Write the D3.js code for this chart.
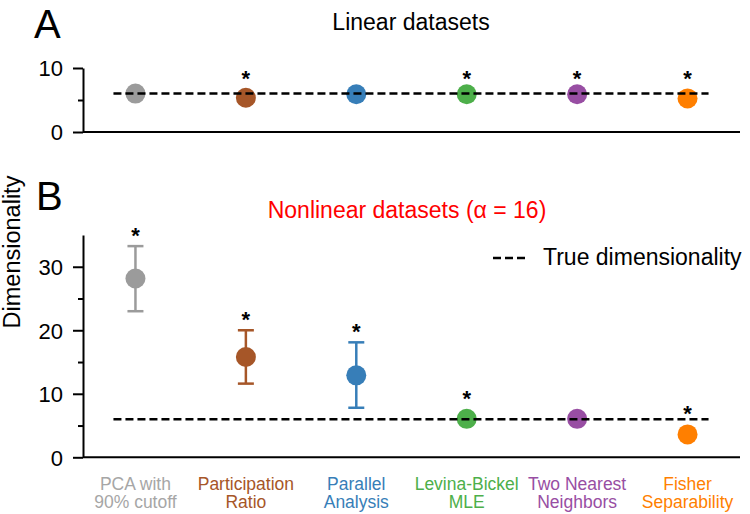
<!DOCTYPE html>
<html>
<head>
<meta charset="utf-8">
<script src="https://cdn.jsdelivr.net/npm/d3@7"></script>
<style>
  body { margin: 0; background: #fff; }
  svg text { font-family: Arial, "Liberation Sans", sans-serif; }
  .axis path, .axis line { stroke: #000; stroke-width: 2; }
  .axis text { font-size: 22px; fill: #000; }
</style>
</head>
<body>
<div id="chart"></div>
<script>
// Methods (categories) and their colours
const methods = ["PCA", "PR", "PA", "LB", "TNN", "FS"];
const methodLabels = [
  ["PCA with", "90% cutoff"],
  ["Participation", "Ratio"],
  ["Parallel", "Analysis"],
  ["Levina-Bickel", "MLE"],
  ["Two Nearest", "Neighbors"],
  ["Fisher", "Separability"]
];
const colors = ["#9b9b9b", "#a65628", "#377eb8", "#4daf4a", "#984ea3", "#ff7f00"];
const labelColors = ["#a6a6a6", "#a65628", "#377eb8", "#4daf4a", "#984ea3", "#ff7f00"];

const trueDim = 6;

// Panel A: linear datasets
const linearMean = [6.0, 5.35, 5.9, 5.9, 5.9, 5.25];
const linearStar = [false, true, false, true, true, true];

// Panel B: nonlinear datasets (alpha = 16)
const nonlinMean = [28.15, 15.8, 12.9, 6.05, 6.05, 3.6];
const nonlinLo = [23.0, 11.6, 7.8, null, null, null];
const nonlinHi = [33.25, 20.0, 18.1, null, null, null];
const nonlinStar = [true, true, true, true, false, true];

const ticksA = [0, 10], minorA = [5];
const ticksB = [0, 10, 20, 30], minorB = [5, 15, 25];

const width = 750, height = 514;
const svg = d3.select("#chart").append("svg")
  .attr("width", width).attr("height", height);

const x = d3.scalePoint().domain(methods).range([83, 740]).padding(0.475);
const yA = d3.scaleLinear().domain([0, 10]).range([132, 68]);
const yB = d3.scaleLinear().domain([0, 35]).range([457.3, 235]);

function yAxis(y, ticks, minor) {
  svg.append("g").attr("class", "axis")
    .attr("transform", "translate(83,0)")
    .call(d3.axisLeft(y).tickValues(ticks).tickSize(10).tickSizeOuter(0).tickPadding(10))
    .call(g => g.selectAll("text").attr("dy", "0.36em"));
  svg.append("g").attr("class", "axis")
    .attr("transform", "translate(83,0)")
    .call(d3.axisLeft(y).tickValues(minor).tickSize(5).tickSizeOuter(0).tickFormat(""))
    .call(g => g.select(".domain").remove());
}

function xAxis(y0) {
  svg.append("g").attr("class", "axis")
    .attr("transform", `translate(0,${y0})`)
    .call(d3.axisBottom(x).tickSize(0).tickFormat(""))
    .call(g => g.select(".domain").attr("d", `M83,0H740`));
}

function trueLine(y) {
  svg.append("line")
    .attr("x1", x(methods[0]) - 22).attr("x2", x(methods[methods.length - 1]) + 21)
    .attr("y1", y(trueDim)).attr("y2", y(trueDim))
    .attr("stroke", "#000").attr("stroke-width", 2.5)
    .attr("stroke-dasharray", "8 4");
}

function star(cx, cy) {
  svg.append("text")
    .attr("x", cx).attr("y", cy + 12)
    .attr("text-anchor", "middle")
    .attr("font-size", 22).attr("font-weight", "bold")
    .text("*");
}

// ---- Panel A ----
svg.append("text").attr("x", 34).attr("y", 38).attr("font-size", 40).text("A");
svg.append("text").attr("x", 411).attr("y", 30).attr("text-anchor", "middle")
  .attr("font-size", 23).text("Linear datasets");

yAxis(yA, ticksA, minorA);
xAxis(132);

svg.append("g").selectAll("circle")
  .data(methods)
  .join("circle")
  .attr("cx", d => x(d))
  .attr("cy", (d, i) => yA(linearMean[i]))
  .attr("r", 10)
  .attr("fill", (d, i) => colors[i]);

trueLine(yA);

methods.forEach((m, i) => { if (linearStar[i]) star(x(m), yA(9.0)); });

// ---- Panel B ----
svg.append("text").attr("x", 36).attr("y", 210).attr("font-size", 40).text("B");
svg.append("text").attr("x", 407).attr("y", 218).attr("text-anchor", "middle")
  .attr("font-size", 23).attr("fill", "#ff0000").text("Nonlinear datasets (\u03b1 = 16)");

svg.append("text")
  .attr("transform", "translate(20,252) rotate(-90)")
  .attr("text-anchor", "middle").attr("font-size", 23.5)
  .text("Dimensionality");

yAxis(yB, ticksB, minorB);
xAxis(457.3);

// error bars
const eb = svg.append("g");
methods.forEach((m, i) => {
  if (nonlinLo[i] == null) return;
  const cx = x(m);
  const c = colors[i];
  eb.append("line").attr("x1", cx).attr("x2", cx)
    .attr("y1", yB(nonlinLo[i])).attr("y2", yB(nonlinHi[i]))
    .attr("stroke", c).attr("stroke-width", 2.5);
  [nonlinLo[i], nonlinHi[i]].forEach(v => {
    eb.append("line").attr("x1", cx - 8).attr("x2", cx + 8)
      .attr("y1", yB(v)).attr("y2", yB(v))
      .attr("stroke", c).attr("stroke-width", 2.5);
  });
});

svg.append("g").selectAll("circle")
  .data(methods)
  .join("circle")
  .attr("cx", d => x(d))
  .attr("cy", (d, i) => yB(nonlinMean[i]))
  .attr("r", 10)
  .attr("fill", (d, i) => colors[i]);

trueLine(yB);

methods.forEach((m, i) => {
  if (!nonlinStar[i]) return;
  const top = nonlinHi[i] != null ? yB(nonlinHi[i]) : yB(nonlinMean[i]) - 10;
  star(x(m), Math.min(top - 15, yB(trueDim) - 9));
});

// legend
svg.append("line").attr("x1", 493).attr("x2", 527).attr("y1", 258).attr("y2", 258)
  .attr("stroke", "#000").attr("stroke-width", 2.5).attr("stroke-dasharray", "8 4");
svg.append("text").attr("x", 543).attr("y", 265).attr("font-size", 23)
  .text("True dimensionality");

// category labels
methods.forEach((m, i) => {
  const t = svg.append("text")
    .attr("text-anchor", "middle").attr("font-size", 17.5)
    .attr("fill", labelColors[i]);
  methodLabels[i].forEach((line, k) => {
    t.append("tspan").attr("x", x(m)).attr("y", 489.5 + k * 18.5).text(line);
  });
});
</script>
</body>
</html>
